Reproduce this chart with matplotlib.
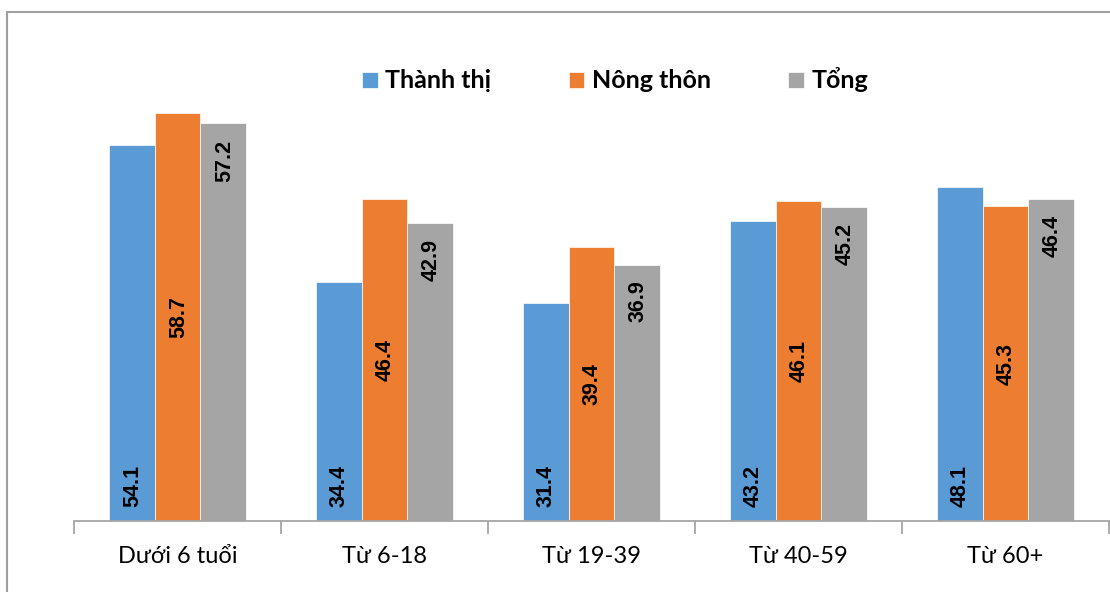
import matplotlib
matplotlib.use("Agg")
import matplotlib.pyplot as plt
from matplotlib import font_manager
from matplotlib.patches import Rectangle
import numpy as np

categories = ["Dưới 6 tuổi", "Từ 6-18", "Từ 19-39", "Từ 40-59", "Từ 60+"]
series_names = ["Thành thị", "Nông thôn", "Tổng"]
thanh_thi = [54.1, 34.4, 31.4, 43.2, 48.1]
nong_thon = [58.7, 46.4, 39.4, 46.1, 45.3]
tong = [57.2, 42.9, 36.9, 45.2, 46.4]

colors = ["#5B9BD5", "#ED7D31", "#A5A5A5"]

installed = {f.name for f in font_manager.fontManager.ttflist}


def pick(options):
    for name in options:
        if name in installed:
            return name
    return "DejaVu Sans"


label_font = pick(["Liberation Sans Narrow", "DejaVu Sans Condensed", "Liberation Sans"])
text_font = pick(["Lato", "Open Sans", "Noto Sans"])

W, H, DPI = 1110, 592, 100
fig = plt.figure(figsize=(W / DPI, H / DPI), dpi=DPI)

# plot area in pixel terms
left_px, right_px, base_px = 74, 1109, 521
ymax = 70
px_per_unit = 6.95
top_px = base_px - ymax * px_per_unit
ax = fig.add_axes([left_px / W, (H - base_px) / H,
                   (right_px - left_px) / W, (base_px - top_px) / H])
ax.set_ylim(0, ymax)
ax.set_xlim(-0.5, len(categories) - 0.5)

x = np.arange(len(categories))
bw = 0.2222
data = [thanh_thi, nong_thon, tong]
bars = []
for i, (vals, c, name) in enumerate(zip(data, colors, series_names)):
    b = ax.bar(x + (i - 1) * bw, vals, bw, color=c, edgecolor="white",
               linewidth=0.5, label=name, zorder=2)
    bars.append(b)

lab_kw = dict(rotation=90, fontsize=15.5, fontweight="bold", family=label_font,
              color="black", ha="center", textcoords="offset pixels")
# Thành thị: labels at the base of each bar
for rect, v in zip(bars[0], thanh_thi):
    ax.annotate(f"{v:.1f}", (rect.get_x() + rect.get_width() / 2, 0),
                xytext=(1, 14), va="bottom", **lab_kw)
# Nông thôn: labels centred in each bar
for rect, v in zip(bars[1], nong_thon):
    ax.annotate(f"{v:.1f}", (rect.get_x() + rect.get_width() / 2, v / 2),
                xytext=(1, 0), va="center", **lab_kw)
# Tổng: labels just inside the top of each bar
for rect, v in zip(bars[2], tong):
    ax.annotate(f"{v:.1f}", (rect.get_x() + rect.get_width() / 2, v),
                xytext=(1, -16), va="top", **lab_kw)

for s in ["top", "right", "left"]:
    ax.spines[s].set_visible(False)
ax.spines["bottom"].set_color("#A6A6A6")
ax.spines["bottom"].set_linewidth(1.3)
ax.set_yticks([])

# category boundary ticks and centred labels
ax.set_xticks(np.arange(len(categories) + 1) - 0.5)
ax.set_xticklabels([])
ax.tick_params(axis="x", which="major", length=9, width=1.3, color="#A6A6A6")
ax.set_xticks(x, minor=True)
ax.set_xticklabels(categories, minor=True, fontsize=17, family=text_font)
ax.tick_params(axis="x", which="minor", length=0, pad=18)

leg = ax.legend(loc="center", bbox_to_anchor=(615 / W, (H - 80) / H),
                bbox_transform=fig.transFigure, ncol=3, frameon=False,
                prop={"family": text_font, "weight": "bold", "size": 18},
                handlelength=0.62, handleheight=0.62, handletextpad=0.3,
                columnspacing=3.1, borderpad=0, borderaxespad=0)

# outer chart border
fig.patches.append(Rectangle((7 / W, -0.1), 1.2, 1.1 - 12 / H,
                             transform=fig.transFigure, fill=False,
                             edgecolor="#A0A0A0", linewidth=1.5))

fig.savefig("out.png", dpi=DPI)
